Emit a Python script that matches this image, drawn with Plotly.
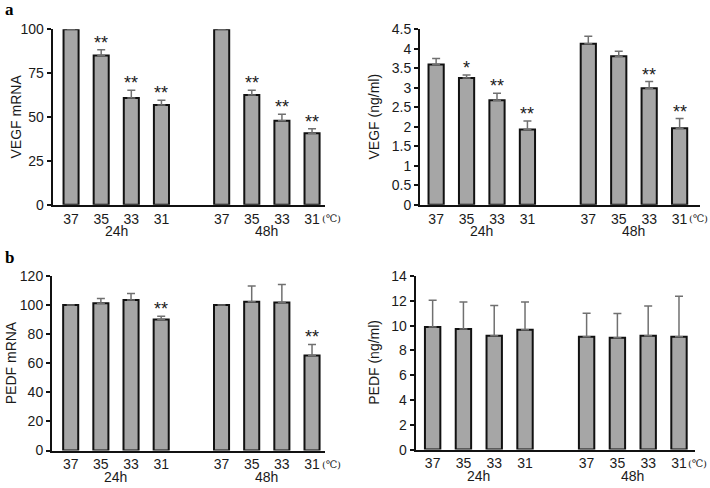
import plotly.graph_objects as go

W, H = 710, 488

temperatures = ["37", "35", "33", "31"]
time_groups = ["24h", "48h"]

vegf_mrna = [100, 85.1, 60.8, 56.8, 100, 62.6, 47.9, 40.7]
vegf_mrna_err = [None, 3.3, 4.4, 2.7, None, 2.6, 3.7, 2.6]
vegf_mrna_sig = ["", "**", "**", "**", "", "**", "**", "**"]

vegf_protein = [3.60, 3.25, 2.68, 1.93, 4.13, 3.81, 2.99, 1.96]
vegf_protein_err = [0.15, 0.08, 0.18, 0.22, 0.19, 0.13, 0.17, 0.25]
vegf_protein_sig = ["", "*", "**", "**", "", "", "**", "**"]

pedf_mrna = [100, 101.3, 103.5, 90.1, 100, 102.3, 101.8, 65.3]
pedf_mrna_err = [None, 3.3, 4.5, 2.3, None, 10.9, 12.3, 7.6]
pedf_mrna_sig = ["", "", "", "**", "", "", "", "**"]

pedf_protein = [9.89, 9.73, 9.19, 9.67, 9.10, 9.02, 9.19, 9.10]
pedf_protein_err = [2.15, 2.17, 2.44, 2.23, 1.89, 1.95, 2.39, 3.26]
pedf_protein_sig = ["", "", "", "", "", "", "", ""]

# bar slots: 4 temperatures per group, one empty slot between groups
xpos = [g * (len(temperatures) + 1) + i for g in range(len(time_groups)) for i in range(len(temperatures))]
xlabels = temperatures * len(time_groups)

FONT = "Liberation Sans, Arial, sans-serif"
TXT = "#1a1a1a"
FS = 14

panels = [
    dict(v=vegf_mrna, e=vegf_mrna_err, s=vegf_mrna_sig, title="VEGF mRNA", yr=[0, 100], dt=25,
         l=52.7, r=325, t=29.3, b=204.7, xr=[-0.61, 8.43], tx=15.5),
    dict(v=vegf_protein, e=vegf_protein_err, s=vegf_protein_sig, title="VEGF (ng/ml)", yr=[0, 4.5], dt=0.5,
         l=420, r=700, t=29.3, b=204.7, xr=[-0.53, 8.67], tx=373.5),
    dict(v=pedf_mrna, e=pedf_mrna_err, s=pedf_mrna_sig, title="PEDF mRNA", yr=[0, 120], dt=20,
         l=52, r=325, t=276, b=450.5, xr=[-0.62, 8.43], tx=11),
    dict(v=pedf_protein, e=pedf_protein_err, s=pedf_protein_sig, title="PEDF (ng/ml)", yr=[0, 14], dt=2,
         l=415.7, r=695, t=276, b=449.6, xr=[-0.55, 8.52], tx=374),
]

fig = go.Figure()
annotations = []
layout = {}
for k, p in enumerate(panels, start=1):
    xa = "x" if k == 1 else f"x{k}"
    ya = "y" if k == 1 else f"y{k}"
    fig.add_trace(go.Bar(
        x=xpos, y=p["v"], width=0.5, xaxis=xa, yaxis=ya,
        marker=dict(color="#a6a6a6", line=dict(color="#111111", width=2)),
        error_y=dict(type="data", symmetric=False, array=p["e"],
                     arrayminus=[0] * len(p["v"]), color="#707070", thickness=1.5, width=4, visible=True),
        showlegend=False, hoverinfo="skip",
    ))
    layout["xaxis" if k == 1 else f"xaxis{k}"] = dict(
        domain=[p["l"] / W, p["r"] / W], anchor=ya, range=p["xr"], automargin=False,
        tickmode="array", tickvals=xpos, ticktext=xlabels, ticks="",
        showline=True, linecolor="#111111", linewidth=2, showgrid=False, zeroline=False,
        tickfont=dict(family=FONT, size=FS, color=TXT), fixedrange=True,
    )
    layout["yaxis" if k == 1 else f"yaxis{k}"] = dict(
        domain=[1 - p["b"] / H, 1 - p["t"] / H], anchor=xa, range=p["yr"], dtick=p["dt"],
        tick0=0, ticks="outside", ticklen=4, tickwidth=1.5, tickcolor="#111111", automargin=False,
        showline=True, linecolor="#111111", linewidth=2, showgrid=False, zeroline=False,
        tickfont=dict(family=FONT, size=FS, color=TXT), fixedrange=True,
    )
    # y-axis title
    annotations.append(dict(x=p["tx"] / W, y=1 - (p["t"] + p["b"]) / 2 / H, xref="paper", yref="paper",
                            text=p["title"], textangle=-90, showarrow=False,
                            xanchor="center", yanchor="middle",
                            font=dict(family=FONT, size=FS, color=TXT)))
    # group labels
    for g, name in enumerate(time_groups):
        center = (xpos[g * 4 + 1] + xpos[g * 4 + 2]) / 2
        annotations.append(dict(x=center, y=1 - (p["b"] + 26.5) / H, xref=xa, yref="paper",
                                text=name, showarrow=False, yanchor="middle",
                                font=dict(family=FONT, size=FS, color=TXT)))
    annotations.append(dict(x=xpos[-1], y=1 - (p["b"] + 13.5) / H, xref=xa, yref="paper",
                            text="(\u2103)", showarrow=False, xshift=19, yanchor="middle",
                            font=dict(family="DejaVu Serif, serif", size=10, color=TXT)))
    # significance stars
    for xi, v, e, s in zip(xpos, p["v"], p["e"], p["s"]):
        if s:
            annotations.append(dict(x=xi, y=v + (e or 0), xref=xa, yref=ya, text=s,
                                    showarrow=False, yanchor="bottom", yshift=-5,
                                    font=dict(family=FONT, size=18, color=TXT)))

annotations.append(dict(x=3 / W, y=1 - 10 / H, xref="paper", yref="paper", text="<b>a</b>",
                        showarrow=False, xanchor="left", yanchor="middle",
                        font=dict(family="Liberation Serif, Times New Roman, serif", size=17, color="#000")))
annotations.append(dict(x=3 / W, y=1 - 257 / H, xref="paper", yref="paper", text="<b>b</b>",
                        showarrow=False, xanchor="left", yanchor="middle",
                        font=dict(family="Liberation Serif, Times New Roman, serif", size=17, color="#000")))

fig.update_layout(
    template="none",
    width=W, height=H, margin=dict(l=0, r=0, t=0, b=0, autoexpand=False),
    paper_bgcolor="white", plot_bgcolor="white",
    annotations=annotations, **layout,
)
fig.write_html("out.html", config={"displayModeBar": False},
               post_script="document.body.style.margin='0';document.body.style.padding='0';")
